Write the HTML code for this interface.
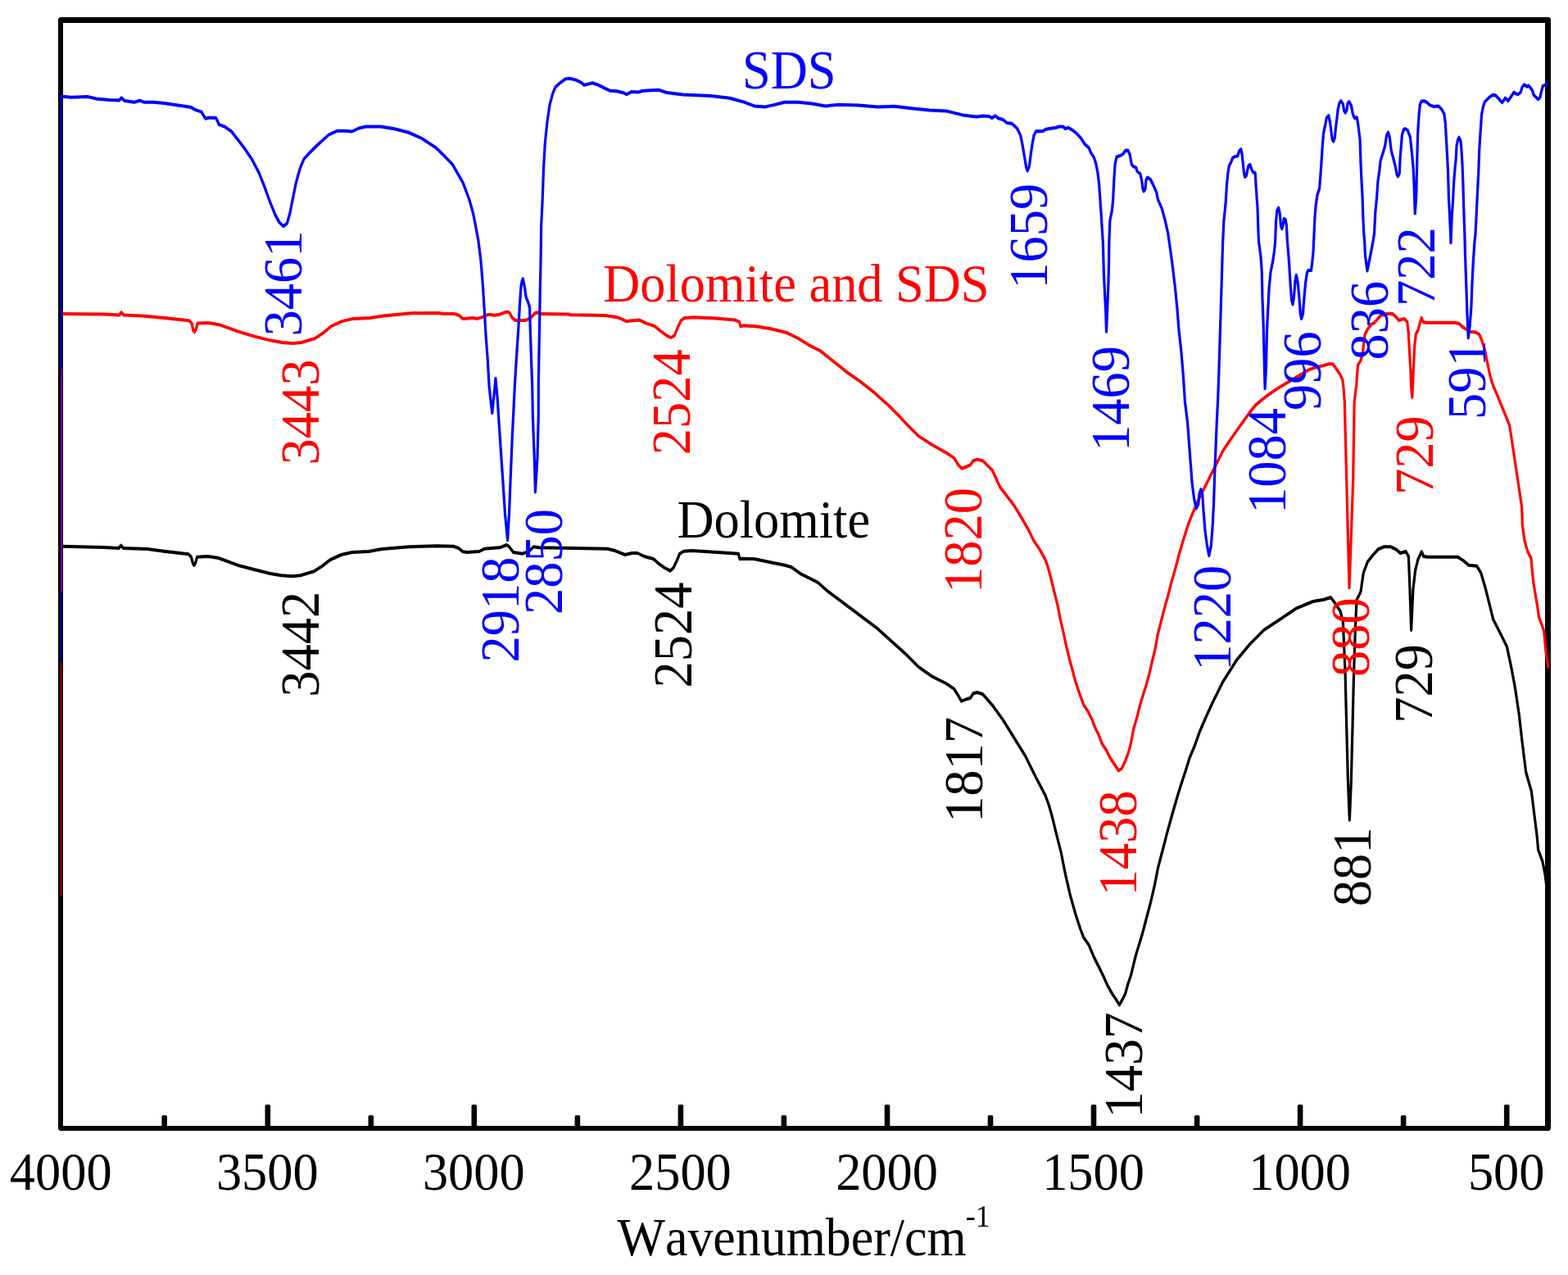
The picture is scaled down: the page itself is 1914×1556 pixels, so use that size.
<!DOCTYPE html>
<html lang="en"><head><meta charset="utf-8"><title>FTIR spectra</title>
<style>
html,body{margin:0;padding:0;background:#fff;}
body{width:1914px;height:1556px;overflow:hidden;}
svg{display:block;}
text{font-family:"Liberation Serif",serif;font-kerning:none;}
.c{fill:none;stroke-width:4.0;stroke-linejoin:round;stroke-linecap:butt;}
</style></head><body>
<svg width="1914" height="1556" viewBox="0 0 1914 1556">
<rect x="0" y="0" width="1914" height="1556" fill="#fff"/>
<g fill="#000" shape-rendering="crispEdges">
<path fill-rule="evenodd" shape-rendering="auto" d="M73 21H1891L1893 23V1378L1891 1380H73L71 1378V23ZM77 28V1374H1886V28Z"/>
<path d="M1835.9 1375V1350Q1835.9 1348 1837.9 1348H1840.5Q1842.5 1348 1842.5 1350V1375Z" shape-rendering="auto"/>
<path d="M1709.8 1375V1363Q1709.8 1361 1711.8 1361H1714.4Q1716.4 1361 1716.4 1363V1375Z" shape-rendering="auto"/>
<path d="M1583.8 1375V1350Q1583.8 1348 1585.8 1348H1588.4Q1590.4 1348 1590.4 1350V1375Z" shape-rendering="auto"/>
<path d="M1457.8 1375V1363Q1457.8 1361 1459.8 1361H1462.4Q1464.4 1361 1464.4 1363V1375Z" shape-rendering="auto"/>
<path d="M1331.7 1375V1350Q1331.7 1348 1333.7 1348H1336.3Q1338.3 1348 1338.3 1350V1375Z" shape-rendering="auto"/>
<path d="M1205.7 1375V1363Q1205.7 1361 1207.7 1361H1210.3Q1212.3 1361 1212.3 1363V1375Z" shape-rendering="auto"/>
<path d="M1079.7 1375V1350Q1079.7 1348 1081.7 1348H1084.3Q1086.3 1348 1086.3 1350V1375Z" shape-rendering="auto"/>
<path d="M953.6 1375V1363Q953.6 1361 955.6 1361H958.2Q960.2 1361 960.2 1363V1375Z" shape-rendering="auto"/>
<path d="M827.6 1375V1350Q827.6 1348 829.6 1348H832.2Q834.2 1348 834.2 1350V1375Z" shape-rendering="auto"/>
<path d="M701.6 1375V1363Q701.6 1361 703.6 1361H706.2Q708.2 1361 708.2 1363V1375Z" shape-rendering="auto"/>
<path d="M575.5 1375V1350Q575.5 1348 577.5 1348H580.1Q582.1 1348 582.1 1350V1375Z" shape-rendering="auto"/>
<path d="M449.5 1375V1363Q449.5 1361 451.5 1361H454.1Q456.1 1361 456.1 1363V1375Z" shape-rendering="auto"/>
<path d="M323.5 1375V1350Q323.5 1348 325.5 1348H328.1Q330.1 1348 330.1 1350V1375Z" shape-rendering="auto"/>
<path d="M197.4 1375V1363Q197.4 1361 199.4 1361H202.0Q204.0 1361 204.0 1363V1375Z" shape-rendering="auto"/>
</g>
<g transform="scale(0.8 1)">
<path class="c" stroke="#000" d="M95.0 666.7L158.3 668.0L181.2 669.0L184.6 665.7L188.3 669.0L225.0 670.0L250.0 672.7L287.5 676.3L291.7 679.7L294.2 687.3L296.2 690.0L298.8 685.7L300.8 679.7L316.7 679.0L333.3 681.0L362.5 689.7L387.5 695.0L412.5 700.0L429.2 702.3L445.8 703.3L458.3 702.3L479.2 697.3L491.7 690.7L504.2 683.0L520.8 677.0L537.5 674.0L562.5 673.0L583.3 670.0L625.0 667.3L666.7 666.3L691.7 666.7L700.0 669.0L706.2 673.3L712.5 674.0L731.2 673.0L739.6 669.7L750.0 669.0L762.5 668.3L772.9 665.0L777.1 667.3L783.3 674.0L797.5 675.7L807.9 672.3L814.2 667.3L822.5 668.3L926.7 669.7L939.2 672.3L953.8 677.0L964.2 675.0L972.5 675.0L982.9 679.0L997.5 682.3L1005.8 688.3L1014.2 693.0L1022.5 696.7L1027.5 693.0L1032.9 684.0L1037.1 675.7L1043.3 672.7L1055.8 672.0L1089.2 673.7L1126.7 675.7L1128.8 682.3L1132.9 681.7L1151.7 682.3L1172.5 685.7L1197.5 689.7L1207.9 692.3L1222.5 700.7L1247.5 710.7L1264.2 722.3L1289.2 737.3L1314.2 752.3L1339.2 767.3L1360.0 782.3L1380.8 797.3L1401.7 814.0L1422.5 825.7L1443.3 834.0L1455.8 840.7L1462.1 849.0L1467.1 855.7L1474.6 853.3L1480.8 851.7L1485.0 846.3L1491.2 845.0L1499.6 847.3L1514.2 860.7L1530.8 879.0L1547.5 900.7L1564.2 922.3L1580.8 949.0L1595.0 970.7L1600.1 981.8L1604.9 995.0L1611.9 1018.0L1618.9 1040.0L1625.1 1065.1L1633.0 1092.7L1640.9 1115.2L1648.6 1134.0L1653.4 1144.1L1661.2 1152.9L1669.0 1167.9L1676.9 1180.4L1683.1 1190.5L1689.4 1201.8L1697.2 1213.0L1703.1 1220.0L1708.0 1226.3L1712.5 1220.0L1716.9 1213.0L1720.7 1201.8L1725.5 1190.5L1729.4 1177.9L1733.2 1165.4L1738.0 1152.9L1742.8 1140.3L1749.0 1121.5L1755.2 1102.7L1761.5 1081.4L1767.0 1058.8L1773.2 1040.0L1780.6 1017.0L1788.2 995.0L1796.1 973.0L1802.4 956.7L1808.6 941.7L1814.9 925.4L1822.8 910.3L1830.6 892.8L1840.0 875.2L1850.0 857.7L1865.8 832.3L1886.7 805.7L1907.5 785.7L1928.3 769.0L1953.3 755.7L1978.3 742.3L2003.3 734.0L2020.0 731.7L2030.4 729.0L2036.7 735.7L2045.0 745.7L2049.2 759.0L2052.5 819.0L2054.6 885.7L2056.7 952.3L2059.2 1000.7L2061.7 952.3L2063.8 885.7L2065.8 819.0L2067.9 769.0L2070.0 732.3L2076.2 722.3L2080.4 699.0L2086.7 685.7L2095.0 677.3L2103.3 670.0L2111.7 667.3L2122.1 667.3L2130.4 670.7L2136.7 675.0L2145.0 673.0L2149.2 679.0L2151.2 719.0L2153.3 769.0L2156.2 719.0L2159.6 695.7L2163.8 682.3L2169.2 673.3L2172.1 679.0L2178.3 679.7L2224.2 679.7L2232.5 684.0L2240.8 689.7L2253.3 690.7L2259.6 699.0L2265.8 715.7L2272.1 735.7L2278.3 755.7L2288.8 772.3L2299.2 789.0L2305.4 812.3L2311.7 839.0L2317.9 872.3L2322.1 902.3L2328.3 942.3L2336.7 965.7L2340.8 992.3L2345.0 1019.0L2347.1 1037.3L2353.3 1050.3L2357.5 1067.0L2359.6 1080.3"/>
<path class="c" stroke="#f00" d="M95.3 382.9L158.8 383.5L181.8 384.5L185.2 381.2L188.9 384.5L217.3 385.5L250.8 387.9L288.4 391.2L292.6 394.6L294.7 402.9L296.8 405.3L299.3 401.3L301.8 394.6L317.7 393.9L334.4 396.2L363.6 404.6L388.7 410.6L413.8 415.6L430.5 418.0L447.2 419.0L459.8 418.0L480.7 413.0L493.2 406.3L505.7 397.9L522.5 391.9L539.2 388.9L564.3 387.9L585.2 385.5L627.0 382.2L668.8 381.9L675.0 382.8L693.8 383.1L700.1 384.7L706.3 389.1L714.2 388.5L722.0 387.9L728.3 388.9L737.7 386.6L744.0 384.1L750.2 384.1L753.4 384.7L761.2 384.1L769.0 381.6L775.3 380.6L777.7 382.2L781.6 387.9L786.3 391.0L794.1 391.0L802.0 391.0L808.2 388.5L812.9 385.3L816.8 381.8L820.8 381.6L825.5 383.1L867.8 383.5L870.9 384.3L910.1 384.7L925.8 385.3L941.5 387.2L949.3 389.7L955.6 392.2L961.8 391.6L975.0 390.4L986.0 394.6L998.5 397.9L1009.0 404.6L1017.3 409.6L1023.6 412.0L1029.0 409.6L1034.1 399.6L1039.1 391.2L1044.5 387.9L1059.1 387.2L1092.6 388.5L1121.8 390.6L1128.1 392.9L1130.2 398.6L1134.4 397.2L1155.3 398.6L1176.2 401.3L1201.3 406.3L1218.0 413.0L1234.7 421.3L1251.4 428.0L1272.3 441.4L1293.2 454.8L1314.1 466.5L1335.0 479.8L1355.9 494.9L1372.6 508.3L1385.0 519.0L1401.7 532.3L1422.5 543.0L1443.3 552.3L1455.8 559.0L1462.1 567.3L1467.5 571.7L1474.6 569.7L1480.8 567.3L1485.0 562.3L1491.2 560.7L1499.6 562.3L1514.2 574.0L1525.9 594.5L1547.4 616.9L1558.8 632.0L1569.0 646.2L1577.4 660.0L1586.0 670.0L1595.5 683.8L1600.1 695.1L1604.9 710.2L1609.5 725.2L1613.5 737.7L1617.4 754.0L1622.1 770.3L1626.8 787.9L1631.2 802.5L1635.4 815.0L1640.9 831.3L1647.1 846.4L1653.5 860.2L1659.7 867.7L1666.0 877.7L1670.7 887.8L1677.0 897.8L1681.6 907.8L1687.9 915.4L1694.2 925.4L1700.5 932.9L1706.8 940.4L1711.5 937.9L1716.1 930.4L1720.9 920.4L1724.7 910.3L1727.1 900.3L1730.2 887.8L1735.0 875.2L1739.6 860.2L1744.4 847.6L1749.0 835.9L1753.8 821.8L1758.5 805.5L1763.1 790.4L1766.2 775.4L1771.0 760.3L1775.7 745.3L1782.0 727.7L1786.6 712.7L1793.0 695.1L1799.2 676.3L1806.4 656.8L1812.8 640.5L1819.0 627.9L1828.4 610.4L1837.8 595.3L1847.1 580.3L1856.6 565.2L1866.0 550.2L1875.4 538.9L1887.5 525.0L1903.0 507.6L1915.0 495.0L1922.3 490.0L1933.2 483.1L1948.9 474.3L1964.6 466.8L1980.3 459.3L1995.9 451.7L2008.5 448.0L2019.4 446.1L2027.3 444.2L2033.5 444.2L2038.2 449.2L2044.5 456.8L2048.4 463.0L2050.0 473.1L2051.6 490.0L2054.6 585.7L2056.7 652.3L2058.8 717.3L2061.7 652.3L2064.6 585.7L2066.5 490.0L2069.6 470.5L2071.9 445.5L2075.9 440.5L2079.0 432.9L2080.6 420.4L2082.9 407.9L2086.8 401.6L2093.1 395.3L2096.9 394.1L2106.3 385.3L2112.6 383.4L2118.8 382.8L2125.1 383.1L2129.8 386.6L2134.5 391.0L2139.2 389.7L2143.1 389.1L2147.1 392.8L2148.9 404.1L2150.2 422.9L2152.1 448.0L2153.3 473.1L2154.8 484.8L2156.5 454.3L2158.3 422.9L2160.4 407.9L2164.3 401.6L2166.7 394.1L2169.0 387.8L2171.4 392.8L2175.3 393.8L2220.7 393.8L2227.0 395.3L2231.7 399.1L2238.0 402.2L2244.2 405.1L2252.1 405.4L2256.8 407.9L2259.9 412.9L2263.0 420.4L2266.2 429.2L2269.3 441.7L2272.5 454.3L2275.6 464.3L2279.5 473.1L2283.4 480.0L2303.3 519.0L2309.6 552.3L2315.8 585.7L2322.1 619.0L2322.9 640.0L2326.0 658.8L2330.7 672.6L2336.2 681.4L2337.8 696.4L2340.1 712.7L2343.2 727.8L2346.4 742.8L2348.0 752.9L2352.8 762.9L2355.9 770.4L2357.4 784.2L2359.0 796.7L2361.2 808.0L2362.4 815.5"/>
<path class="c" stroke="#00f" d="M95.3 117.7L108.7 118.7L133.8 118.0L146.3 120.4L167.2 122.0L181.8 122.4L185.2 119.4L190.2 123.1L204.8 124.7L213.2 122.7L219.4 124.7L234.1 124.7L250.8 126.1L271.7 128.4L290.5 130.7L298.9 134.4L307.2 136.4L313.5 144.8L318.5 143.8L329.4 143.8L334.4 152.1L342.7 154.5L353.2 160.5L363.6 171.2L374.1 182.2L384.5 194.6L395.0 210.7L403.3 227.4L411.7 245.8L420.1 262.5L426.3 271.5L432.6 276.2L438.0 272.5L442.2 260.8L446.4 244.1L451.4 224.0L457.7 205.6L463.9 193.9L472.3 186.6L484.8 176.6L501.6 164.5L514.1 159.8L526.6 159.8L537.1 160.5L547.5 156.5L558.0 154.5L581.0 154.5L601.9 157.2L622.8 161.5L643.7 168.9L664.6 179.9L675.0 187.8L690.7 201.0L706.3 222.9L715.8 243.0L722.0 260.6L725.5 275.0L729.9 293.8L733.8 318.9L736.9 350.2L739.3 381.6L741.6 412.9L744.0 438.0L746.3 470.0L748.7 488.8L751.0 503.9L753.4 485.0L756.2 461.8L758.9 485.0L761.2 513.9L764.3 551.5L767.5 589.1L770.6 626.7L774.5 659.3L776.9 626.7L778.4 595.4L780.0 564.0L781.6 532.7L783.2 507.6L784.7 482.5L785.5 470.0L787.9 438.0L791.0 400.4L793.3 369.0L794.9 350.2L796.5 342.7L798.0 340.2L800.4 350.2L802.7 362.8L805.9 369.0L808.2 375.3L809.0 400.4L810.6 438.0L812.1 470.0L812.9 507.6L815.3 557.8L816.8 600.4L820.0 557.8L821.6 507.6L821.6 470.0L822.3 438.0L823.1 400.4L823.9 362.8L825.2 312.6L825.8 275.0L827.8 243.0L829.4 205.4L831.7 174.0L834.9 149.0L838.8 127.6L843.5 113.9L847.4 106.3L855.3 100.7L863.1 96.3L869.4 95.7L878.8 97.6L886.6 100.7L891.3 103.8L897.6 102.6L903.8 101.3L913.2 103.8L922.6 107.6L930.5 110.7L941.5 111.3L950.9 113.2L956.3 115.1L963.4 112.0L975.0 112.4L979.7 111.0L992.3 110.3L1004.8 109.7L1017.3 113.0L1042.4 115.4L1084.2 117.0L1113.5 119.7L1134.4 124.4L1151.1 129.4L1167.8 130.4L1180.4 128.1L1197.1 124.7L1218.0 124.7L1238.9 126.4L1259.8 129.4L1280.7 127.7L1309.9 128.4L1339.2 130.4L1364.3 129.7L1393.5 132.4L1418.6 134.4L1443.7 135.4L1468.8 140.4L1489.7 142.4L1500.0 141.6L1509.4 142.0L1513.3 144.1L1518.8 141.4L1523.5 144.5L1529.8 145.8L1536.1 149.9L1543.9 150.8L1551.7 156.4L1557.2 165.2L1560.3 177.7L1563.5 192.8L1565.8 204.1L1567.7 208.5L1570.5 202.8L1572.9 187.8L1575.2 175.2L1577.6 165.2L1580.7 160.2L1586.2 159.9L1590.9 160.2L1595.6 157.7L1603.4 156.7L1611.3 155.8L1616.0 154.5L1622.3 154.5L1625.4 157.1L1630.1 155.8L1636.4 158.9L1642.6 162.7L1648.9 168.3L1655.2 175.9L1661.4 180.3L1664.6 186.5L1669.3 192.2L1672.4 200.3L1674.8 210.3L1677.1 225.4L1678.7 244.2L1680.3 263.0L1681.8 281.8L1682.9 295.0L1684.2 332.6L1685.7 357.7L1687.3 382.8L1688.1 404.7L1689.7 376.5L1691.2 345.2L1692.0 320.1L1692.3 295.0L1693.6 269.3L1696.7 256.7L1698.3 244.2L1699.8 219.1L1701.4 200.3L1703.8 191.5L1710.0 189.7L1713.9 187.8L1717.1 183.8L1721.0 183.4L1724.1 189.0L1726.5 200.3L1728.8 202.8L1733.5 204.7L1735.1 209.1L1739.8 212.2L1742.2 220.4L1743.7 230.4L1745.3 233.5L1747.6 230.4L1748.4 220.4L1750.8 216.6L1755.5 219.1L1760.2 226.6L1764.9 235.4L1766.5 242.9L1772.7 254.2L1777.4 268.0L1782.1 284.3L1784.0 295.0L1788.4 320.1L1793.1 351.4L1796.2 376.5L1798.6 401.6L1802.5 430.0L1805.6 460.0L1808.0 490.0L1811.9 515.1L1814.3 540.2L1816.6 565.2L1819.0 590.3L1822.1 609.1L1825.2 620.4L1828.4 615.4L1829.9 602.9L1832.3 597.2L1834.6 602.9L1836.2 621.7L1838.6 646.7L1841.7 665.5L1844.8 678.1L1848.0 665.5L1850.3 640.5L1851.9 615.4L1853.4 577.8L1855.0 546.4L1856.6 515.1L1858.2 490.0L1860.0 450.0L1861.9 400.0L1863.8 350.0L1865.8 295.0L1867.4 269.3L1869.0 256.7L1870.5 244.2L1871.8 225.4L1873.4 212.9L1875.2 202.8L1878.4 197.8L1880.7 192.8L1884.6 190.9L1888.6 190.3L1890.9 184.0L1893.3 182.1L1894.8 186.5L1896.4 197.8L1898.0 210.3L1899.5 216.0L1901.9 214.1L1903.4 207.8L1905.0 202.2L1907.4 200.9L1909.7 206.6L1912.1 210.3L1915.2 211.0L1916.3 225.4L1917.6 240.4L1918.8 254.2L1919.9 281.8L1920.7 295.0L1923.8 313.8L1925.4 332.6L1926.2 364.0L1927.7 395.3L1928.8 432.9L1930.1 474.3L1931.7 451.7L1933.2 401.6L1934.8 376.5L1936.4 351.4L1938.7 332.6L1941.8 320.1L1944.2 307.5L1945.8 295.0L1947.0 269.3L1948.6 256.7L1950.8 253.6L1952.8 260.5L1954.4 275.5L1956.0 279.3L1958.0 273.0L1959.1 266.8L1961.4 268.0L1963.0 275.5L1964.3 295.0L1966.9 320.1L1969.3 351.4L1970.8 366.5L1972.4 371.5L1974.3 362.7L1976.3 342.6L1977.9 335.8L1980.3 345.2L1982.6 365.2L1984.2 382.8L1985.7 389.0L1988.1 382.8L1989.7 365.2L1992.0 345.2L1994.4 332.6L1995.9 330.1L2000.6 330.1L2002.2 320.1L2003.8 307.5L2004.5 295.0L2006.1 266.8L2007.7 250.5L2010.0 237.9L2013.2 230.4L2014.7 215.4L2016.3 197.8L2017.9 177.7L2019.4 162.7L2021.8 153.9L2024.1 143.9L2027.3 141.1L2029.6 150.2L2031.2 160.2L2032.8 170.2L2034.6 172.7L2036.7 167.7L2038.2 155.2L2039.8 145.1L2041.4 133.9L2043.7 125.7L2046.1 123.2L2049.2 127.0L2050.8 135.1L2052.7 137.6L2054.7 135.1L2056.3 126.3L2058.6 124.1L2061.8 128.8L2064.1 138.9L2066.5 143.9L2070.4 143.3L2071.9 150.2L2073.5 160.2L2075.1 170.2L2076.2 197.8L2077.4 219.1L2078.7 237.9L2079.8 265.5L2081.3 288.1L2082.1 295.0L2083.1 311.7L2086.2 330.5L2089.4 317.9L2094.0 299.1L2096.9 285.0L2098.5 259.3L2100.8 240.5L2102.4 221.7L2104.7 209.1L2106.3 196.6L2110.2 186.6L2113.4 177.8L2115.7 165.2L2118.1 161.5L2120.4 167.7L2122.8 184.0L2125.9 192.8L2129.0 202.9L2131.4 212.9L2133.0 215.4L2135.3 211.6L2136.4 192.8L2138.0 177.8L2139.2 165.2L2141.6 158.3L2143.9 157.1L2147.8 159.0L2151.8 167.7L2154.1 185.3L2156.5 205.4L2157.7 227.9L2159.1 260.5L2160.9 240.5L2162.4 190.3L2163.5 159.0L2165.1 140.2L2166.7 127.6L2169.0 123.6L2172.9 123.2L2177.6 125.1L2181.5 128.2L2187.8 130.1L2194.9 129.5L2199.6 133.3L2203.5 138.9L2205.4 150.2L2206.6 167.7L2208.2 190.3L2209.4 209.1L2210.5 240.5L2212.1 265.5L2213.2 285.0L2213.7 296.3L2215.2 265.5L2216.8 246.7L2218.4 221.7L2219.9 206.6L2221.5 194.1L2222.6 177.8L2224.6 170.3L2226.2 167.7L2228.6 171.5L2230.1 184.0L2231.4 202.9L2232.5 227.9L2233.6 259.3L2234.8 285.0L2235.6 310.1L2237.2 347.7L2238.8 385.3L2240.3 412.3L2242.7 397.9L2245.0 372.8L2246.1 347.7L2247.7 322.6L2249.7 297.5L2251.3 285.0L2252.9 259.3L2254.4 234.2L2256.0 209.1L2257.1 184.0L2259.1 159.0L2260.7 140.2L2263.0 130.1L2265.4 124.5L2269.3 121.3L2273.2 118.2L2277.2 116.1L2281.9 116.3L2285.8 119.5L2289.7 123.2L2292.0 125.1L2294.4 122.6L2296.7 119.5L2299.1 121.3L2300.7 123.2L2303.8 120.1L2306.9 116.3L2310.1 112.6L2313.2 114.5L2316.3 115.1L2320.3 112.6L2322.6 106.3L2325.7 103.2L2329.7 105.7L2332.0 104.4L2335.1 106.9L2338.3 110.7L2339.9 115.7L2343.8 118.8L2346.9 121.3L2350.0 118.8L2351.6 112.6L2354.0 105.0L2357.1 103.8L2361.8 101.9"/>
</g>
<rect x="74" y="116.3" width="2.3" height="333.7" fill="#00f" shape-rendering="crispEdges"/>
<rect x="74" y="450" width="1.2" height="358" fill="#00f" shape-rendering="crispEdges"/>
<rect x="75.2" y="450" width="1.1" height="273" fill="#f00" shape-rendering="crispEdges"/>
<rect x="74" y="808" width="1.2" height="285" fill="#f00" shape-rendering="crispEdges"/>
<text transform="translate(1838.7 1452) scale(0.945 1)" font-size="66" text-anchor="middle" fill="#000">500</text>
<text transform="translate(1586.6 1452) scale(0.945 1)" font-size="66" text-anchor="middle" fill="#000">1000</text>
<text transform="translate(1334.5 1452) scale(0.945 1)" font-size="66" text-anchor="middle" fill="#000">1500</text>
<text transform="translate(1082.5 1452) scale(0.945 1)" font-size="66" text-anchor="middle" fill="#000">2000</text>
<text transform="translate(830.4 1452) scale(0.945 1)" font-size="66" text-anchor="middle" fill="#000">2500</text>
<text transform="translate(578.3 1452) scale(0.945 1)" font-size="66" text-anchor="middle" fill="#000">3000</text>
<text transform="translate(326.3 1452) scale(0.945 1)" font-size="66" text-anchor="middle" fill="#000">3500</text>
<text transform="translate(74.2 1452) scale(0.945 1)" font-size="66" text-anchor="middle" fill="#000">4000</text>
<text transform="translate(753.5 1532) scale(0.938 1)" font-size="66" fill="#000">Wavenumber/cm<tspan font-size="38.5" dy="-35" dx="-1">-1</tspan></text>
<text transform="translate(906 107.6) scale(0.925 1)" font-size="67.5" fill="#00f">SDS</text>
<text transform="translate(736.3 368) scale(0.945 1)" font-size="66" fill="#f00">Dolomite and SDS</text>
<text transform="translate(826.5 656) scale(0.945 1)" font-size="66" fill="#000">Dolomite</text>
<text transform="translate(368.4 410.5) rotate(-90) scale(0.967 1)" font-size="66.7" fill="#00f">3461</text>
<text transform="translate(633.3 808.5) rotate(-90) scale(0.967 1)" font-size="66.7" fill="#00f">2918</text>
<text transform="translate(686 750) rotate(-90) scale(0.967 1)" font-size="66.7" fill="#00f">2850</text>
<text transform="translate(1278.2 352.7) rotate(-90) scale(0.967 1)" font-size="66.7" fill="#00f">1659</text>
<text transform="translate(1378 551) rotate(-90) scale(0.967 1)" font-size="66.7" fill="#00f">1469</text>
<text transform="translate(1502.2 818.7) rotate(-90) scale(0.967 1)" font-size="66.7" fill="#00f">1220</text>
<text transform="translate(1568.6 627) rotate(-90) scale(0.967 1)" font-size="66.7" fill="#00f">1084</text>
<text transform="translate(1612.4 501) rotate(-90) scale(0.967 1)" font-size="66.7" fill="#00f">996</text>
<text transform="translate(1694.2 439.5) rotate(-90) scale(0.967 1)" font-size="66.7" fill="#00f">836</text>
<text transform="translate(1751 374) rotate(-90) scale(0.967 1)" font-size="66.7" fill="#00f">722</text>
<text transform="translate(1813.3 512) rotate(-90) scale(0.967 1)" font-size="66.7" fill="#00f">591</text>
<text transform="translate(388.5 567.5) rotate(-90) scale(0.967 1)" font-size="66.7" fill="#f00">3443</text>
<text transform="translate(841.5 555.3) rotate(-90) scale(0.967 1)" font-size="66.7" fill="#f00">2524</text>
<text transform="translate(1198.3 724) rotate(-90) scale(0.967 1)" font-size="66.7" fill="#f00">1820</text>
<text transform="translate(1387 1093.6) rotate(-90) scale(0.967 1)" font-size="66.7" fill="#f00">1438</text>
<text transform="translate(1671.2 826) rotate(-90) scale(0.967 1)" font-size="66.7" fill="#f00">880</text>
<text transform="translate(1748.6 604) rotate(-90) scale(0.967 1)" font-size="66.7" fill="#f00">729</text>
<text transform="translate(388.5 850.7) rotate(-90) scale(0.967 1)" font-size="66.7" fill="#000">3442</text>
<text transform="translate(844 839.5) rotate(-90) scale(0.967 1)" font-size="66.7" fill="#000">2524</text>
<text transform="translate(1198.7 1004) rotate(-90) scale(0.967 1)" font-size="66.7" fill="#000">1817</text>
<text transform="translate(1393.5 1364.5) rotate(-90) scale(0.967 1)" font-size="66.7" fill="#000">1437</text>
<text transform="translate(1672.5 1106.2) rotate(-90) scale(0.967 1)" font-size="66.7" fill="#000">881</text>
<text transform="translate(1748 882.7) rotate(-90) scale(0.967 1)" font-size="66.7" fill="#000">729</text>
</svg>
</body></html>
